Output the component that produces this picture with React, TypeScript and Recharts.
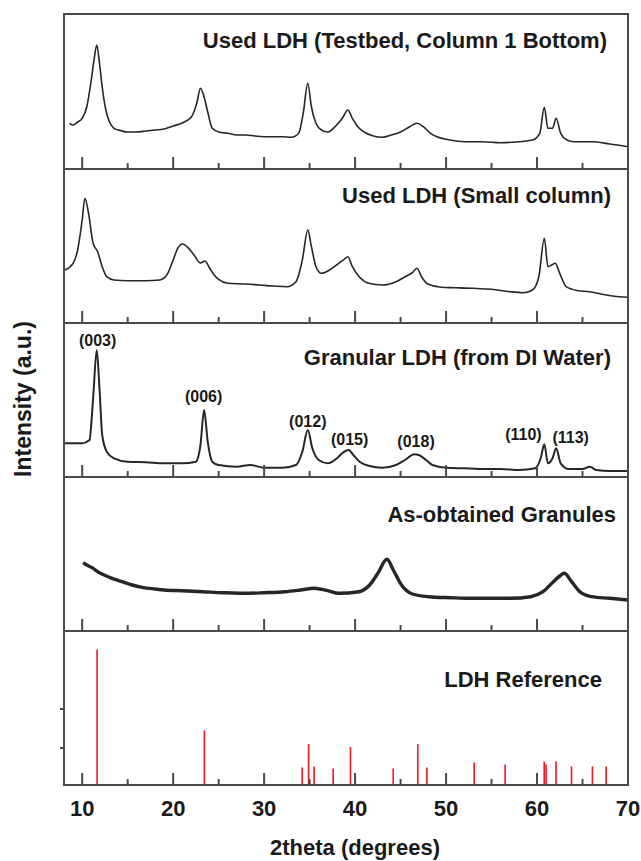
import React from 'react';
import { ComposedChart, Line, Bar, Scatter, XAxis, YAxis } from 'recharts';

// Used LDH (Testbed, Column 1 Bottom)
const testbedTheta = [8.6, 9, 9.5, 10, 10.5, 11, 11.3, 11.6, 11.9, 12.2, 12.6, 13, 13.5, 14, 15, 16, 17, 18, 19, 20, 21, 22, 22.6, 23, 23.4, 23.8, 24.3, 25, 26, 27, 28, 29, 30, 31, 32, 33, 33.8, 34.3, 34.8, 35.2, 35.7, 36.3, 37, 37.8, 38.6, 39.2, 39.7, 40.3, 41, 42, 43, 44, 45, 46, 46.8, 47.5, 48.3, 49, 50, 52, 54, 56, 58, 59.5, 60.3, 60.8, 61.2, 61.7, 62.1, 62.6, 63.3, 64, 66, 68, 70];
const testbedIntensity = [45.7, 44, 47, 50.7, 62, 89, 109, 124, 106, 82, 59, 47, 40.7, 39, 37, 37, 38, 39, 40, 43, 46, 52, 66, 80.7, 72, 57, 40.7, 37, 35.7, 34, 34, 33, 32.3, 32.3, 32.3, 31.7, 35.7, 56, 85.7, 62, 45.7, 39, 37, 42.3, 50.7, 59, 50.7, 42.3, 37, 33, 31.7, 34, 37, 42.3, 45.7, 42.3, 35.7, 32.3, 29.7, 27.3, 27.3, 26.3, 27.3, 29, 35.7, 61.7, 40.7, 40.7, 50.7, 35.7, 29, 27.3, 27.3, 25, 22.3];

// Used LDH (Small column)
const smallTheta = [8.1, 9, 9.5, 10, 10.3, 10.7, 11.2, 11.7, 12.2, 12.7, 13.5, 15, 17, 18.5, 19.3, 20, 20.5, 21, 21.6, 22.3, 23, 23.5, 24, 24.5, 25, 26, 28, 29.5, 31, 32.5, 33.5, 34.2, 34.8, 35.2, 35.7, 36.3, 37.2, 38.2, 38.8, 39.2, 39.7, 40.5, 41.5, 43, 44.5, 45.5, 46.3, 46.8, 47.3, 48, 49.5, 51, 53, 55, 57, 58.5, 59.5, 60.2, 60.8, 61.2, 61.6, 62, 62.5, 63.2, 64.5, 65.8, 67, 69, 70];
const smallIntensity = [53, 59.7, 73, 103, 124.7, 109.7, 79.7, 71.3, 56.3, 46.3, 43, 42.3, 42.3, 43, 48, 63, 74.7, 79, 75.7, 68, 60, 62, 55, 48, 43.7, 39.7, 39, 38, 37, 36.3, 41.3, 63, 93, 76.3, 56.3, 49.7, 53, 59.7, 63.7, 66.3, 56.3, 45.7, 39.7, 38, 41.3, 46.3, 50.3, 54.7, 46.3, 39, 35.7, 35.3, 34.7, 33.7, 31.3, 30.3, 33, 46.3, 84.7, 56.3, 58, 59.7, 49.7, 36.3, 32.3, 31.3, 29, 26.3, 25.7];

// Granular LDH (from DI Water)
const granularTheta = [8.1, 9, 10, 10.8, 11.2, 11.6, 11.9, 12.2, 12.7, 13.5, 15, 17, 19, 21, 22.5, 23, 23.4, 23.8, 24.3, 25, 27, 28.5, 30, 32, 33.5, 34.2, 34.8, 35.3, 36, 37, 38, 38.7, 39.3, 39.8, 40.5, 41.5, 43, 44.5, 45.5, 46.5, 47, 47.8, 48.5, 50, 52, 54, 56, 58, 59.8, 60.4, 60.8, 61.2, 61.7, 62.1, 62.6, 63.5, 65, 65.8, 66.5, 68, 70];
const granularIntensity = [33.7, 33.7, 33.7, 37, 78.7, 127, 88.7, 42, 25.3, 18.7, 15.3, 14.7, 13.7, 13.7, 15.3, 32, 67, 35.3, 15.3, 12, 10.3, 12, 9.3, 9.3, 12, 25.3, 47, 28.7, 17, 13.7, 18.7, 24.7, 27, 22, 15.3, 11.3, 9.3, 12, 17, 22.7, 22, 17, 12, 9.3, 8.7, 8, 8, 7, 8.7, 18.7, 32.7, 13.7, 18.7, 28.7, 13.7, 8, 8, 10.3, 7, 6, 6];

// Miller indices marked on the granular pattern
const millerLabels = ['(003)', '(006)', '(012)', '(015)', '(018)', '(110)', '(113)'];
const millerTheta = [11.7, 23.35, 34.8, 39.4, 46.7, 58.5, 63.7];
const millerLevel = [137, 80.3, 55.3, 37.7, 35.3, 42.7, 39.3];

// As-obtained Granules
const granuleTheta = [10.1, 10.5, 11, 12, 13, 14.4, 15.5, 16.6, 18, 19, 21, 23.3, 25.5, 27.8, 30, 32.3, 34, 35.5, 37, 38.2, 40.4, 41.6, 42.5, 43.5, 44.2, 45.1, 46.3, 48.1, 50.5, 52.6, 55, 57.1, 59.3, 60.65, 61.8, 62.5, 63, 63.8, 64.7, 66, 68, 70];
const granuleIntensity = [68.3, 66, 63.7, 57.7, 53.7, 49.3, 46, 43.7, 42, 41, 40.3, 39.3, 38.3, 37.7, 38.3, 39.3, 41, 42.7, 40.3, 37.7, 39.3, 46, 57.7, 71.7, 61, 46, 37, 34.3, 33.3, 32.7, 32.7, 32.7, 34.3, 39.3, 49.3, 55, 57.7, 49.3, 39.3, 34.3, 32.7, 31];

// LDH reference sticks
const refTheta = [11.65, 23.44, 34.2, 34.9, 35.5, 37.6, 39.5, 44.2, 46.9, 47.9, 53.1, 56.5, 60.8, 61.0, 62.1, 63.8, 66.1, 67.6];
const refIntensity = [70.5, 29, 10, 22, 10.5, 9.5, 20.5, 9.5, 22, 10, 12.5, 11.5, 13, 11.5, 13, 10.5, 10.5, 10.5];

const xTicks = [10, 15, 20, 25, 30, 35, 40, 45, 50, 55, 60, 65, 70];
const refYTicks = [20, 40];

const PLOT_LEFT = 64;
const PLOT_WIDTH = 564;
const PANEL_TOPS = [14, 169, 323, 477, 631];
const PANEL_BOTTOM = 785;
const FRAME = '#4a4a4a';
const INK = '#262626';
const FONT = '"Liberation Sans", Arial, sans-serif';

const rows = (theta: number[], vals: number[]) =>
  theta.map((t, i) => ({ theta: t, intensity: vals[i] }));

const XTick = (props: any) => {
  const { x, y, payload, showLabel } = props;
  const major = payload.value % 10 === 0;
  return (
    <g>
      <line x1={x} x2={x} y1={y} y2={y - (major ? 12 : 6)} stroke={FRAME} strokeWidth={2} />
      {showLabel && major && (
        <text x={x} y={y + 31} textAnchor="middle" fontSize={22} fontWeight="bold" fill="#1a1a1a" fontFamily={FONT}>
          {payload.value}
        </text>
      )}
    </g>
  );
};

// short outward tick, no label
const YTick = (props: any) => (
  <line x1={props.x} x2={props.x - 4} y1={props.y} y2={props.y} stroke={FRAME} strokeWidth={2} />
);

const MillerText = (props: any) => {
  const { cx, cy, payload } = props;
  return (
    <text x={cx} y={cy} textAnchor="middle" dominantBaseline="central" fontSize={16} fontWeight="bold" fill="#1a1a1a" fontFamily={FONT}>
      {payload.hkl}
    </text>
  );
};

// axes get 1px so Recharts still renders them; the plot keeps its full size
const margin = (bottom: number, left = PLOT_LEFT) => ({ top: 0, left, right: 641 - PLOT_LEFT - PLOT_WIDTH, bottom });

function Spectrum({ data, index, width, extra }: { data: any[]; index: number; width: number; extra?: React.ReactNode }) {
  const top = PANEL_TOPS[index];
  const h = (PANEL_TOPS[index + 1] ?? PANEL_BOTTOM) - top;
  return (
    <div style={{ position: 'absolute', left: 0, top }}>
      <ComposedChart width={641} height={h + 1} data={data} margin={margin(0)}>
        <XAxis dataKey="theta" type="number" domain={[8, 70]} ticks={xTicks} interval={0} height={1}
          tickSize={0} tickMargin={0} axisLine={false} tickLine={false} tick={XTick} allowDataOverflow />
        <YAxis type="number" domain={[0, h]} hide allowDataOverflow />
        <Line dataKey="intensity" type="monotone" stroke={INK} strokeWidth={width} dot={false} isAnimationActive={false} />
        {extra}
      </ComposedChart>
    </div>
  );
}

export default function App() {
  const millerRows = millerLabels.map((hkl, i) => ({ hkl, theta: millerTheta[i], level: millerLevel[i] }));
  const refRows = refTheta.map((t, i) => ({ theta: t, rel: refIntensity[i] }));
  const refH = PANEL_BOTTOM - PANEL_TOPS[4];

  return (
    <div style={{ position: 'absolute', left: 0, top: 0, width: 641, height: 861, background: '#fff', fontFamily: FONT }}>
      <Spectrum data={rows(testbedTheta, testbedIntensity)} index={0} width={1.6} />
      <Spectrum data={rows(smallTheta, smallIntensity)} index={1} width={1.6} />
      <Spectrum
        data={rows(granularTheta, granularIntensity)}
        index={2}
        width={2}
        extra={<Scatter data={millerRows} dataKey="level" shape={MillerText} isAnimationActive={false} />}
      />
      <Spectrum data={rows(granuleTheta, granuleIntensity)} index={3} width={3.4} />

      <div style={{ position: 'absolute', left: 0, top: PANEL_TOPS[4] }}>
        <ComposedChart width={641} height={refH + 45} data={refRows} margin={margin(44, PLOT_LEFT - 1)}>
          <XAxis dataKey="theta" type="number" domain={[8, 70]} ticks={xTicks} interval={0} height={1}
            tickSize={0} tickMargin={0} axisLine={false} tickLine={false}
            tick={(p: any) => <XTick {...p} showLabel />} allowDataOverflow />
          <YAxis type="number" domain={[1, 80]} ticks={refYTicks} interval={0} width={1} tick={YTick}
            tickSize={0} tickMargin={0} axisLine={false} tickLine={false} allowDataOverflow />
          <Bar dataKey="rel" fill="#ee1c25" barSize={2} isAnimationActive={false} />
        </ComposedChart>
      </div>

      <svg width={641} height={861} style={{ position: 'absolute', left: 0, top: 0, pointerEvents: 'none' }}>
        <rect x={PLOT_LEFT} y={PANEL_TOPS[0]} width={PLOT_WIDTH} height={PANEL_BOTTOM - PANEL_TOPS[0]} fill="none" stroke={FRAME} strokeWidth={2} />
        {PANEL_TOPS.slice(1).map((y) => (
          <line key={y} x1={PLOT_LEFT} x2={PLOT_LEFT + PLOT_WIDTH} y1={y} y2={y} stroke={FRAME} strokeWidth={2} />
        ))}
        <g fontFamily={FONT} fontWeight="bold" fontSize={22} fill="#1a1a1a">
          <text x={607} y={48} textAnchor="end">Used LDH (Testbed, Column 1 Bottom)</text>
          <text x={611} y={203} textAnchor="end">Used LDH (Small column)</text>
          <text x={611} y={365} textAnchor="end">Granular LDH (from DI Water)</text>
          <text x={616} y={522} textAnchor="end">As-obtained Granules</text>
          <text x={602} y={687} textAnchor="end">LDH Reference</text>
          <text x={355} y={855} textAnchor="middle">2theta (degrees)</text>
          <text transform="translate(31,399) rotate(-90)" textAnchor="middle" fontSize={23}>Intensity (a.u.)</text>
        </g>
      </svg>
    </div>
  );
}
